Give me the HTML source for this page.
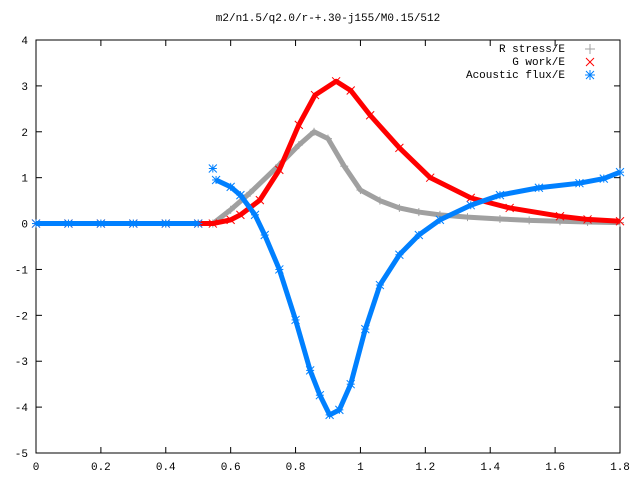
<!DOCTYPE html>
<html><head><meta charset="utf-8"><style>
body{margin:0;background:#fff}
svg text{font-family:"Liberation Mono",monospace;font-size:11px;font-weight:normal}
</style></head><body>
<svg id="chart" width="640" height="480" xmlns="http://www.w3.org/2000/svg">
<rect width="640" height="480" fill="#fff"/>
<text x="328" y="21" text-anchor="middle">m2/n1.5/q2.0/r-+.30-j155/M0.15/512</text>
<rect x="36" y="40" width="584" height="413" fill="none" stroke="#000" stroke-width="1"/>
<g id="axes"></g>
<g id="series"></g>
<g>
<text x="565" y="52" text-anchor="end">R stress/E</text>
<text x="565" y="65" text-anchor="end">G work/E</text>
<text x="565" y="78" text-anchor="end">Acoustic flux/E</text>
<g stroke="#a0a0a0"><line x1="585" y1="49" x2="595" y2="49"/><line x1="590" y1="44" x2="590" y2="54"/></g>
<g stroke="#f00"><line x1="586" y1="58" x2="594" y2="66"/><line x1="586" y1="66" x2="594" y2="58"/></g>
<g stroke="#0080ff"><line x1="585" y1="75" x2="595" y2="75"/><line x1="590" y1="70" x2="590" y2="80"/><line x1="586" y1="71" x2="594" y2="79"/><line x1="586" y1="79" x2="594" y2="71"/></g>
</g>
</svg>
<script>
const xTicks=[0,0.2,0.4,0.6,0.8,1,1.2,1.4,1.6,1.8];
const xTickLabels=["0","0.2","0.4","0.6","0.8","1","1.2","1.4","1.6","1.8"];
const yTicks=[-5,-4,-3,-2,-1,0,1,2,3,4];
const rX=[0,0.1,0.2,0.3,0.4,0.5,0.545,0.6,0.66,0.75,0.81,0.857,0.9,0.95,1.0,1.06,1.12,1.18,1.245,1.33,1.43,1.52,1.615,1.7,1.8];
const rY=[0,0,0,0,0,0,0,0.3,0.67,1.28,1.71,2.0,1.85,1.25,0.73,0.5,0.34,0.25,0.19,0.14,0.1,0.07,0.05,0.035,0.02];
const gX=[0,0.1,0.2,0.3,0.4,0.5,0.545,0.6,0.63,0.69,0.75,0.81,0.86,0.925,0.97,1.03,1.12,1.215,1.34,1.46,1.615,1.7,1.8];
const gY=[0,0,0,0,0,0,0,0.08,0.19,0.51,1.17,2.15,2.8,3.1,2.9,2.36,1.65,1.0,0.56,0.34,0.16,0.09,0.05];
const aX=[0,0.1,0.2,0.3,0.4,0.5,0.545,0.555,0.6,0.63,0.675,0.705,0.75,0.8,0.845,0.875,0.905,0.935,0.97,1.015,1.06,1.12,1.18,1.245,1.34,1.43,1.55,1.675,1.75,1.8];
const aY=[0,0,0,0,0,0,1.2,0.95,0.8,0.62,0.19,-0.25,-1.0,-2.1,-3.2,-3.74,-4.17,-4.06,-3.5,-2.3,-1.34,-0.68,-0.25,0.08,0.4,0.62,0.78,0.88,0.98,1.12];
const X0=36,X1=620,Y0=453,Y1=40;
const sx=v=>X0+(v-0)/(1.8)*(X1-X0);
const sy=v=>Y0-(v+5)/9*(Y0-Y1);
const NS="http://www.w3.org/2000/svg";
function mk(tag,attrs,parent){const e=document.createElementNS(NS,tag);for(const k in attrs)e.setAttribute(k,attrs[k]);parent.appendChild(e);return e;}
const axes=document.getElementById('axes');
xTicks.forEach((t,i)=>{
  const x=sx(t);
  const a=mk('line',{x1:x,y1:Y0,x2:x,y2:Y0-6,stroke:'#000'},axes);
  
  
  const b=mk('line',{x1:x,y1:Y1,x2:x,y2:Y1+6,stroke:'#000'},axes);
  
  
  const l=mk('text',{x:x,y:470,'text-anchor':'middle'},axes);l.textContent=xTickLabels[i];
  
  
});
yTicks.forEach(t=>{
  const y=sy(t);
  const a=mk('line',{x1:X0,y1:y,x2:X0+6,y2:y,stroke:'#000'},axes);
  
  
  const b=mk('line',{x1:X1,y1:y,x2:X1-6,y2:y,stroke:'#000'},axes);
  
  
  const l=mk('text',{x:28,y:y+4,'text-anchor':'end'},axes);l.textContent=String(t);
  
  
});
const ser=document.getElementById('series');
function draw(xs,ys,color,name,kind){
  const g=mk('g',{},ser);
  
  
  const pts=xs.map((x,i)=>sx(x)+','+sy(ys[i])).join(' ');
  mk('polyline',{points:pts,fill:'none',stroke:color,'stroke-width':5,'stroke-linejoin':'round'},g);
  xs.forEach((x,i)=>{
    const cx=sx(x),cy=sy(ys[i]);
    const m=mk('g',{stroke:color,'stroke-width':1},g);
    
    
    if(kind!=='x'){mk('line',{x1:cx-4,y1:cy,x2:cx+4,y2:cy},m);mk('line',{x1:cx,y1:cy-4,x2:cx,y2:cy+4},m);}
    if(kind!=='plus'){mk('line',{x1:cx-4,y1:cy-4,x2:cx+4,y2:cy+4},m);mk('line',{x1:cx-4,y1:cy+4,x2:cx+4,y2:cy-4},m);}
  });
}
draw(rX,rY,'#a0a0a0','r-stress-series','plus');
draw(gX,gY,'#ff0000','g-work-series','x');
draw(aX.slice(0,6),aY.slice(0,6),'#0080ff','acoustic-flux-zero','star');
draw(aX.slice(6,7),aY.slice(6,7),'#0080ff','acoustic-flux-first','star');
draw(aX.slice(7),aY.slice(7),'#0080ff','acoustic-flux-series','star');
</script>
</body></html>
